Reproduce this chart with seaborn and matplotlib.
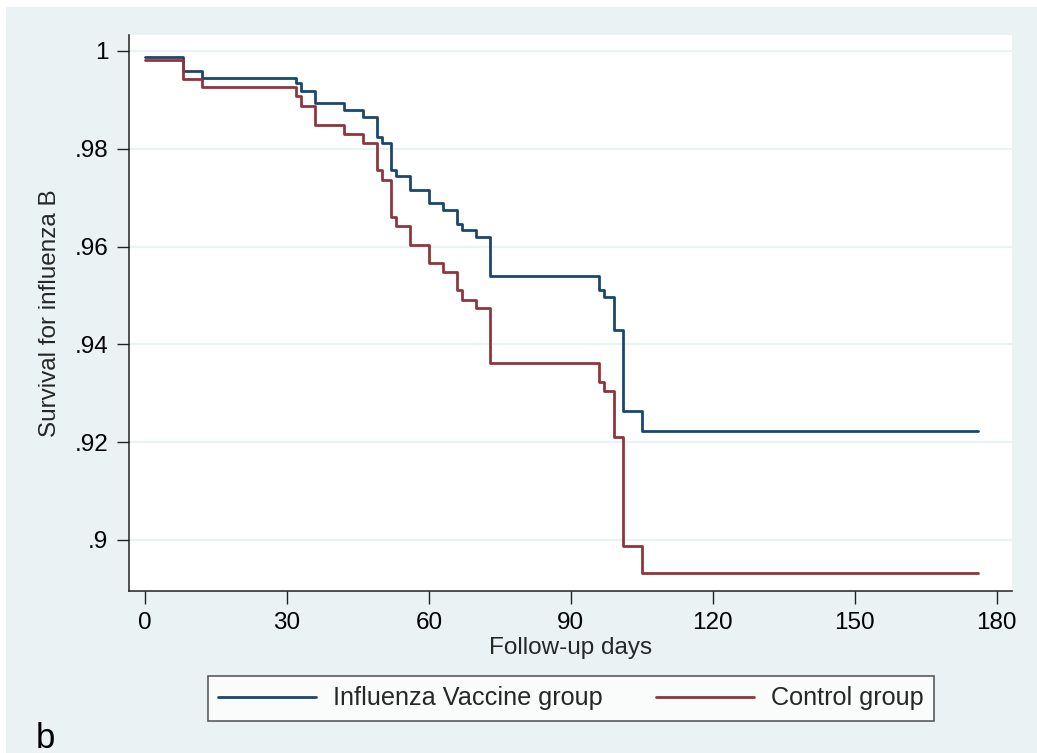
import matplotlib
matplotlib.use("Agg")
import matplotlib.pyplot as plt
from matplotlib.patches import Rectangle
from matplotlib.lines import Line2D
import numpy as np
import pandas as pd
import seaborn as sns

# ---- data ----
days = [0, 8, 12, 32, 33, 36, 42, 46, 49, 50, 52, 53, 56, 60, 63, 66, 67, 70, 73,
        96, 97, 99, 101, 105, 176]
vaccine = [0.9988, 0.9960, 0.9945, 0.9934, 0.9919, 0.9894, 0.9879, 0.9866, 0.9824,
           0.9811, 0.9757, 0.9744, 0.9716, 0.9689, 0.9674, 0.9646, 0.9634, 0.9620,
           0.9539, 0.9512, 0.9496, 0.9429, 0.9264, 0.9223, 0.9223]
control = [0.9982, 0.9942, 0.9926, 0.9907, 0.9888, 0.9848, 0.9831, 0.9811, 0.9757,
           0.9737, 0.9661, 0.9642, 0.9603, 0.9567, 0.9549, 0.9511, 0.9491, 0.9474,
           0.9362, 0.9324, 0.9305, 0.9211, 0.8988, 0.8933, 0.8933]
groups = ["Influenza Vaccine group", "Control group"]
x_ticks = [0, 30, 60, 90, 120, 150, 180]
y_ticks = [0.9, 0.92, 0.94, 0.96, 0.98, 1.0]
y_tick_labels = [".9", ".92", ".94", ".96", ".98", "1"]

df = pd.DataFrame({
    "day": days * 2,
    "surv": vaccine + control,
    "group": [groups[0]] * len(days) + [groups[1]] * len(days),
})

sns.set_style("white")
plt.rcParams["font.family"] = ["Liberation Sans", "DejaVu Sans"]

BG = "#EAF2F3"
W, H = 1037, 753
fig = plt.figure(figsize=(W / 100, H / 100), dpi=100)
fig.patch.set_facecolor("white")
fig.patches.append(Rectangle((6 / W, 0), 1, (H - 7) / H, transform=fig.transFigure,
                             facecolor=BG, edgecolor="none", zorder=-10))

ax = fig.add_axes([129 / W, 1 - 591 / H, (1012 - 129) / W, (591 - 35) / H])
ax.set_facecolor("white")

palette = {groups[0]: "#1A476F", groups[1]: "#90353B"}
sns.lineplot(data=df, x="day", y="surv", hue="group", palette=palette,
             drawstyle="steps-post", estimator=None, linewidth=2.0, ax=ax,
             legend=False)

ax.set_xlim(-3.38, 183.2)
ax.set_ylim(0.88957, 1.00327)
ax.set_xticks(x_ticks)
ax.set_yticks(y_ticks)
ax.set_yticklabels(y_tick_labels)
for y in y_ticks:
    ax.axhline(y, color=BG, lw=1.6, zorder=0)

for s in ["top", "right"]:
    ax.spines[s].set_visible(False)
for s in ["left", "bottom"]:
    ax.spines[s].set_color("#222222")
    ax.spines[s].set_linewidth(1.1)

ax.tick_params(axis="both", direction="out", length=9, width=1.0, color="#222222",
               labelsize=17.5, labelcolor="black", pad=6, left=True, bottom=True)
ax.set_xlabel("Follow-up days", fontsize=17.5, labelpad=2)
ax.set_ylabel("Survival for influenza B", fontsize=17.5, labelpad=10)

handles = [Line2D([], [], color=palette[g], lw=2.0) for g in groups]
leg = fig.legend(handles, groups, ncol=2, loc="center",
                 bbox_to_anchor=(571 / W, 1 - 698.5 / H), frameon=True, fancybox=False,
                 fontsize=18.2, handlelength=3.87, handletextpad=0.68, columnspacing=2.1,
                 borderpad=0.42, borderaxespad=0, edgecolor="#333333")
leg.get_frame().set_linewidth(1.2)
leg.get_frame().set_facecolor("white")

fig.text(45 / W, 1 - 738 / H, "b", fontsize=25, ha="center", va="center",
         color="black")

fig.savefig("out.png", dpi=100, facecolor=fig.get_facecolor())
